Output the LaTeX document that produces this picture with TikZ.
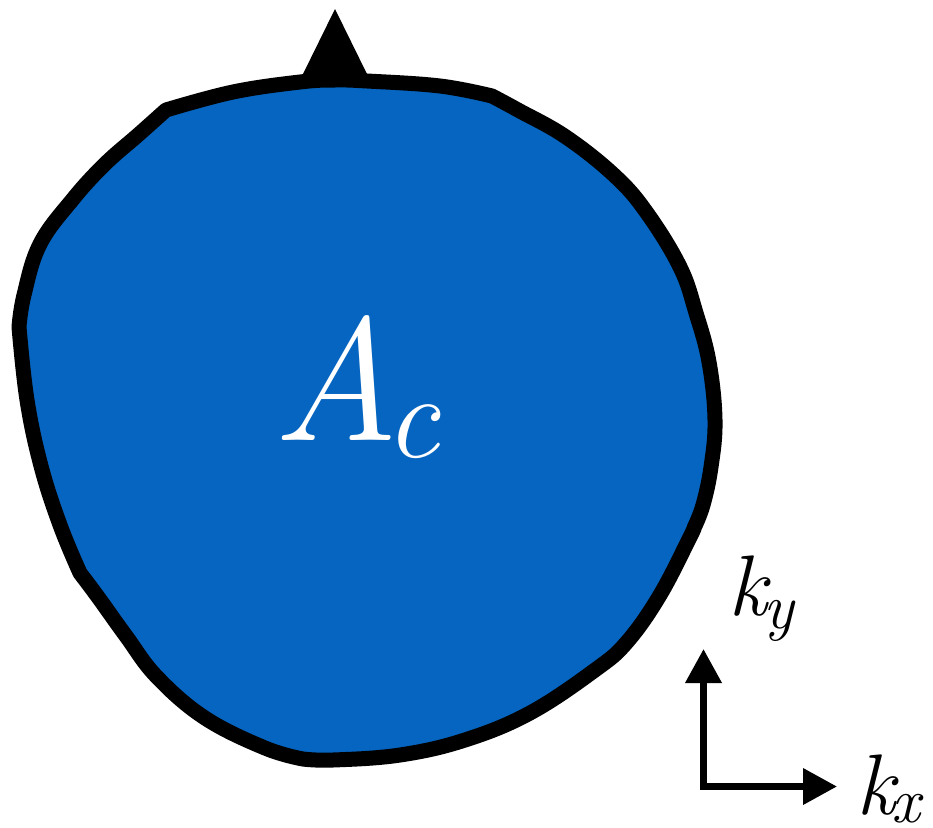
\documentclass[tikz,border=0pt]{standalone}
\usetikzlibrary{arrows.meta}
\definecolor{blobblue}{RGB}{5,101,192}
\tikzset{
  outline/.style={draw=black, fill=blobblue, line width=15pt, line join=round},
  axisline/.style={line width=7pt, line join=miter, {Triangle[length=34pt,width=35pt]}-{Triangle[length=34pt,width=35pt]}},
  lbl/.style={anchor=base west, inner sep=0pt, font=\itshape},
}
\begin{document}
\begin{tikzpicture}[x=1pt,y=-1pt]
\useasboundingbox (0,0) rectangle (933,827);
% blob
\path[outline]
  plot[smooth, tension=0.65] coordinates {(166,110) (233,92) (300,82) (335,80) (367,81) (440,86) (492,96)}
  -- plot[smooth, tension=0.65] coordinates {(492,96) (518,110) (566,137) (615,176) (647,213) (680,267) (696,313) (709,362) (715,420) (711,467) (703,505) (694,528)}
  -- plot[smooth, tension=0.65] coordinates {(694,528) (690,537) (660,595) (627,642) (595,670) (530,713) (465,740) (400,755) (333,760) (303,759)}
  -- plot[smooth, tension=0.65] coordinates {(303,759) (265,748) (205,718) (157,677) (126,636) (98,597) (80,573)}
  -- plot[smooth, tension=0.65] coordinates {(80,573) (60,525) (41,466) (27,400) (19,327)}
  -- plot[smooth, tension=0.65] coordinates {(19,327) (24,295) (40,244) (73,199) (105,164) (138,135) (166,110)}
  -- cycle;
% top triangle
\coordinate (tapex) at (335,9);
\coordinate (tleft) at (302,76);
\coordinate (tright) at (367,74);
\fill[black] (tapex) -- (tleft) -- (tright) -- cycle;
% label
\node[lbl, text=white] (Ac) at (272,440) {\fontsize{175}{175}\selectfont A\kern-14pt\raisebox{-17pt}{\fontsize{120}{120}\selectfont c}};
% axes
\coordinate (origin) at (703.5,786.5);
\coordinate (ytip) at (703.5,649);
\coordinate (xtip) at (837,786.5);
\draw[axisline] (ytip) -- (origin) -- (xtip);
\node[lbl] (ky) at (728,615) {\fontsize{86}{86}\selectfont k\kern-3pt\raisebox{-13pt}{\fontsize{64}{64}\selectfont y}};
\node[lbl] (kx) at (856,814) {\fontsize{86}{86}\selectfont k\kern-3pt\raisebox{-8pt}{\fontsize{64}{64}\selectfont x}};
\end{tikzpicture}
\end{document}
